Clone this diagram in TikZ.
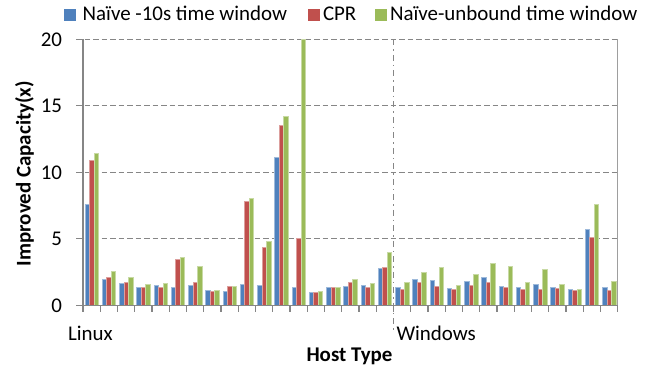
\documentclass[tikz,border=0pt]{standalone}
\usepackage{fontspec}
\setmainfont{Carlito}
\definecolor{barblue}{HTML}{4F81BD}
\definecolor{barred}{HTML}{C0504D}
\definecolor{bargreen}{HTML}{9BBB59}
\definecolor{axisgray}{HTML}{868686}
\begin{document}
\begin{tikzpicture}[x=1bp,y=1bp,
  every node/.style={inner sep=0pt,outer sep=0pt,font=\fontsize{21}{25}\selectfont},
  lbl/.style={font=\fontsize{21}{25}\selectfont\bfseries},
  grid/.style={axisgray,line width=1.1bp,dash pattern=on 5.5bp off 3bp},
  axisline/.style={axisgray,line width=1.6bp},
  border/.style={axisgray!80,line width=1.2bp},
  divider/.style={axisgray,line width=1.1bp,dash pattern=on 6bp off 4bp on 1.5bp off 4bp},
  bar/.style={line width=0.3bp}]
\useasboundingbox (0,0) rectangle (649,371);

% plot frame: x from 83 to 617.7, y=0 at 65.7, 13.3bp per unit
\def\xa{83}\def\xb{617.7}\def\yb{65.7}\def\yt{331.7}
\def\gw{17.248}\def\bw{4.55}

% horizontal gridlines
\foreach \v in {5,10,15,20}
  \draw[grid] (76,{\yb+\v*13.3}) -- (\xb,{\yb+\v*13.3});

% bars: Naive -10s / CPR / Naive-unbound
\foreach \a/\b/\c [count=\i from 0] in {
 7.63/10.9/11.44, 2.0/2.13/2.6, 1.7/1.75/2.1, 1.33/1.35/1.6, 1.53/1.33/1.65,
 1.33/3.45/3.65, 1.53/1.75/2.98, 1.15/1.03/1.15, 1.08/1.45/1.45, 1.6/7.83/8.06,
 1.53/4.36/4.83, 11.11/13.52/14.22, 1.38/5.06/20, 1.0/1.0/1.03, 1.33/1.33/1.35,
 1.45/1.75/1.98, 1.53/1.33/1.68, 2.78/2.88/4.0,
 1.33/1.23/1.75, 1.98/1.75/2.5, 1.88/1.43/2.88, 1.30/1.18/1.5, 1.78/1.55/2.33,
 2.08/1.75/3.18, 1.45/1.35/2.95, 1.33/1.23/1.73, 1.6/1.2/2.73, 1.38/1.28/1.6,
 1.2/1.13/1.25, 5.73/5.16/7.63, 1.38/1.15/1.85} {
  \pgfmathsetmacro\xl{\xa+\i*\gw+1.75}
  \filldraw[bar,fill=barblue,draw=barblue!55!white] (\xl,\yb) rectangle ++(\bw,{\a*13.3});
  \filldraw[bar,fill=barred,draw=barred!55!white] ({\xl+\bw},\yb) rectangle ++(\bw,{\b*13.3});
  \filldraw[bar,fill=bargreen,draw=bargreen!55!white] ({\xl+2*\bw},\yb) rectangle ++(\bw,{\c*13.3});
}

% right border and Linux/Windows divider
\draw[border] (\xb,\yb) -- (\xb,\yt);
\draw[divider] (393.3,\yt) -- (393.3,39);

% axes with tick marks
\draw[axisline] (\xa,\yt) -- (\xa,\yb) -- (\xb,\yb);
\foreach \v in {0,5,...,20}
  \draw[axisgray,line width=1.1bp] (76,{\yb+\v*13.3}) -- (\xa,{\yb+\v*13.3});
\foreach \k in {0,...,31}
  \draw[axisgray,line width=1.1bp] ({\xa+\k*\gw},\yb) -- ({\xa+\k*\gw},59.5);

% y tick labels
\foreach \v in {0,5,10,15,20}
  \node[anchor=east] (yt\v) at (62,{\yb+\v*13.3}) {\v};

% axis titles and category labels
\node[lbl,rotate=90] (ytitle) at (24.5,197.5) {Improved Capacity(x)};
\node[anchor=base west] (linux) at (68,31) {Linux};
\node[anchor=base west] (windows) at (396.5,31) {Windows};
\node[lbl,anchor=base] (xtitle) at (349.5,9.3) {Host Type};

% legend
\fill[barblue] (64,350) rectangle ++(11.5,11.5);
\node[anchor=base west] (leg1) at (82.7,350.3) {Naïve -10s time window};
\fill[barred] (308.3,350) rectangle ++(11.5,11.5);
\node[anchor=base west] (leg2) at (323,350.3) {CPR};
\fill[bargreen] (375,350) rectangle ++(11.5,11.5);
\node[anchor=base west] (leg3) at (390,350.3) {Naïve-unbound time window};
\end{tikzpicture}
\end{document}
